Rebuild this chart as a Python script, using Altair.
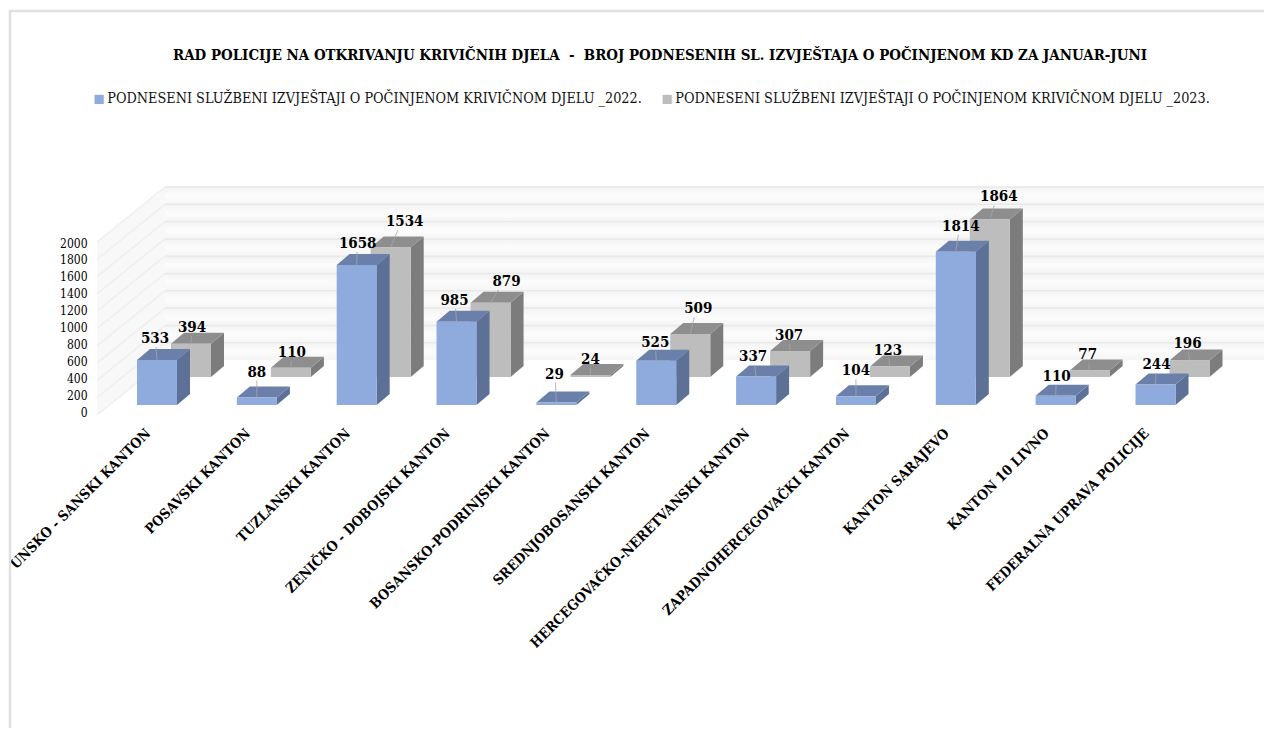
import altair as alt
import pandas as pd

TITLE = "RAD POLICIJE NA OTKRIVANJU KRIVIČNIH DJELA\u00a0\u00a0-\u00a0\u00a0BROJ PODNESENIH SL. IZVJEŠTAJA O POČINJENOM KD ZA JANUAR-JUNI"
CANTONS = ["UNSKO - SANSKI KANTON", "POSAVSKI KANTON", "TUZLANSKI KANTON", "ZENIČKO - DOBOJSKI KANTON",
           "BOSANSKO-PODRINJSKI KANTON", "SREDNJOBOSANSKI KANTON", "HERCEGOVAČKO-NERETVANSKI KANTON",
           "ZAPADNOHERCEGOVAČKI KANTON", "KANTON SARAJEVO", "KANTON 10 LIVNO", "FEDERALNA UPRAVA POLICIJE"]
V2022 = [533, 88, 1658, 985, 29, 525, 337, 104, 1814, 110, 244]
V2023 = [394, 110, 1534, 879, 24, 509, 307, 123, 1864, 77, 196]
S2022 = "PODNESENI SLUŽBENI IZVJEŠTAJI O POČINJENOM KRIVIČNOM DJELU _2022."
S2023 = "PODNESENI SLUŽBENI IZVJEŠTAJI O POČINJENOM KRIVIČNOM DJELU _2023."
TICKS = [0, 200, 400, 600, 800, 1000, 1200, 1400, 1600, 1800, 2000]
# label nudges from the bar-top centre (pixels)
NUDGE_X_22 = [-2, 0, 1, -2, -2, -1, -3, 0, 5, 1, 1]
NUDGE_Y_22 = [22, 26, 22, 22, 29, 19, 21, 26, 26, 20, 20]
NUDGE_X_23 = [1, 1, 14, 16, 0, 8, -1, -2, 9, -2, -2]
NUDGE_Y_23 = [17, 16, 26, 22, 16, 26, 16, 17, 23, 16, 17]

FONT = "DejaVu Serif Condensed"
PX_Y = 0.0845           # pixels per value unit
PX_X = 99.85            # pixels per category
u_y = lambda px: px / PX_Y
u_x = lambda px: px / PX_X
BAR_W, DEPTH_X, DEPTH_Y = u_x(40), u_x(13), u_y(11)
BASE = {S2022: u_y(7), S2023: u_y(35)}
SHIFT = {S2022: 0.0, S2023: u_x(34)}
VALUES = {S2022: V2022, S2023: V2023}
NUDGE = {S2022: (NUDGE_X_22, NUDGE_Y_22), S2023: (NUDGE_X_23, NUDGE_Y_23)}
WALL_X0, WALL_X1, WALL_X2 = u_x(97 - 157), u_x(165 - 157), u_x(1264 - 157)
FRONT_Y0, BACK_Y0 = u_y(-3), u_y(52)
WALL_H = u_y(173)

front, side, top, labels, leaders = [], [], [], [], []
for s in (S2023, S2022):
    for i, v in enumerate(VALUES[s]):
        l = i - BAR_W / 2 + SHIFT[s]
        r = l + BAR_W
        b = BASE[s]
        t = b + v
        front.append(dict(series=s, x=l, x2=r, y=b, y2=t))
        side += [dict(series=s, k=i, x=r, y=t, y2=b), dict(series=s, k=i, x=r + DEPTH_X, y=t + DEPTH_Y, y2=b + DEPTH_Y)]
        top += [dict(series=s, k=i, x=l, y=t, y2=t), dict(series=s, k=i, x=l + DEPTH_X, y=t + DEPTH_Y, y2=t),
                dict(series=s, k=i, x=r, y=t + DEPTH_Y, y2=t), dict(series=s, k=i, x=r + DEPTH_X, y=t + DEPTH_Y, y2=t + DEPTH_Y)]
        nx, ny = NUDGE[s][0][i], NUDGE[s][1][i]
        c = (l + r) / 2
        labels.append(dict(series=s, x=c + u_x(nx), y=t + u_y(ny), text=str(v)))
        leaders.append(dict(series=s, x=c, y=t, x2=c + u_x(nx) * 0.5, y2=t + u_y(ny - 9)))

x_scale = alt.Scale(domain=[u_x(90 - 157), u_x(1264 - 157)], nice=False, zero=False)
y_scale = alt.Scale(domain=[u_y(412 - 420), u_y(412 - 180)], nice=False, zero=False)
XN = alt.X("x:Q", scale=x_scale, title=None,
           axis=alt.Axis(values=list(range(len(CANTONS))), labelExpr="%s[datum.value]" % str(CANTONS), labelAngle=-45,
                         labelAlign="right", labelBaseline="middle", labelFont=FONT, labelFontWeight="bold",
                         labelFontSize=14, labelColor="#000000", ticks=False, domain=False, grid=False,
                         labelPadding=11, labelOffset=-9, labelOverlap=False, labelFlush=False, labelBound=False,
                         labelLimit=400))
YN = alt.Y("y:Q", scale=y_scale, title=None,
           axis=alt.Axis(values=TICKS, labelFont=FONT, labelFontSize=12, labelColor="#000000", ticks=False,
                         domain=False, grid=False, labelPadding=3, labelOverlap=False, labelBound=False,
                         labelFlush=False, labelSeparation=0, format="d"))

frame = alt.Chart(pd.DataFrame({"x": [0.0], "y": [0.0]})).mark_rect(fillOpacity=0, stroke="#e0e0e0", strokeWidth=2.5).encode(
    x=alt.value(10 - 90), x2=alt.value(1400), y=alt.value(11 - 180), y2=alt.value(900))

side_wall = pd.DataFrame([dict(x=WALL_X0, y=FRONT_Y0 + WALL_H, y2=FRONT_Y0), dict(x=WALL_X1, y=BACK_Y0 + WALL_H, y2=BACK_Y0)])
wall_left = alt.Chart(side_wall).mark_area(color="#f8f8f8", orient="vertical").encode(x=XN, y=YN, y2="y2:Q")
back_df = pd.DataFrame([dict(x=WALL_X1, x2=WALL_X2, y=BACK_Y0 + WALL_H * k / 10, y2=BACK_Y0 + WALL_H * (k + 1) / 10) for k in range(10)])
wall_back = alt.Chart(back_df).mark_rect(
    fill=alt.Gradient(gradient="linear", x1=0, y1=0, x2=0, y2=1,
                      stops=[alt.GradientStop(offset=0, color="#f3f3f3"), alt.GradientStop(offset=0.5, color="#fcfcfc"),
                             alt.GradientStop(offset=1, color="#f5f5f5")])
).encode(x=XN, x2="x2:Q", y=YN, y2="y2:Q")
grid_df = pd.DataFrame([dict(x=WALL_X1, x2=WALL_X2, y=BACK_Y0 + WALL_H * k / 10) for k in range(1, 11)])
grid_back = alt.Chart(grid_df).mark_rule(color="#e9e9e9", strokeWidth=1.5).encode(x=XN, x2="x2:Q", y=YN)
diag_df = pd.DataFrame([dict(x=WALL_X0, x2=WALL_X1, y=FRONT_Y0 + WALL_H * k / 10, y2=BACK_Y0 + WALL_H * k / 10) for k in range(0, 11)])
grid_left = alt.Chart(diag_df).mark_rule(color="#efefef", strokeWidth=1.5).encode(x=XN, x2="x2:Q", y=YN, y2="y2:Q")

COL = {S2022: ("#8faadc", "#5d7096", "#6a80aa"), S2023: ("#bdbdbd", "#7c7c7c", "#8e8e8e")}
layers = [frame, wall_back, wall_left, grid_back, grid_left]
fdf, sdf, tdf = pd.DataFrame(front), pd.DataFrame(side), pd.DataFrame(top)
for s in (S2023, S2022):
    layers.append(alt.Chart(sdf[sdf.series == s]).mark_area(color=COL[s][1], orient="vertical").encode(
        x=XN, y=YN, y2="y2:Q", detail="k:N"))
    layers.append(alt.Chart(tdf[tdf.series == s]).mark_area(color=COL[s][2], orient="vertical").encode(
        x=XN, y=YN, y2="y2:Q", detail="k:N"))
    layers.append(alt.Chart(fdf[fdf.series == s]).mark_rect().encode(
        x=XN, x2="x2:Q", y=YN, y2="y2:Q",
        fill=alt.Fill("series:N", scale=alt.Scale(domain=[S2022, S2023], range=[COL[S2022][0], COL[S2023][0]]),
                      legend=alt.Legend(orient="none", legendX=2, legendY=92 - 180, direction="horizontal",
                                        columns=2, title=None, symbolType="square", symbolSize=85, symbolStrokeWidth=0,
                                        labelFont=FONT, labelFontSize=14.3, labelColor="#111111", labelLimit=700,
                                        labelOffset=1, columnPadding=18, symbolOffset=0))))
leader = alt.Chart(pd.DataFrame(leaders)).mark_rule(color="#a6a6a6", strokeWidth=0.8).encode(x=XN, x2="x2:Q", y=YN, y2="y2:Q")
text = alt.Chart(pd.DataFrame(labels)).mark_text(font=FONT, fontWeight="bold", fontSize=15, color="#000000").encode(
    x=XN, y=YN, text="text:N")
layers += [leader, text]

chart = alt.layer(*layers).properties(
    width=1174, height=240,
    title=alt.TitleParams(TITLE, font=FONT, fontSize=14.92, fontWeight="bold", color="#000000", anchor="middle", dx=-17, offset=-53),
    autosize=alt.AutoSizeParams(type="none"),
    padding={"left": 82, "top": 172, "right": 0, "bottom": 308},
).configure_view(stroke=None)

chart.save("out.html", embed_options={"renderer": "svg", "actions": False})
